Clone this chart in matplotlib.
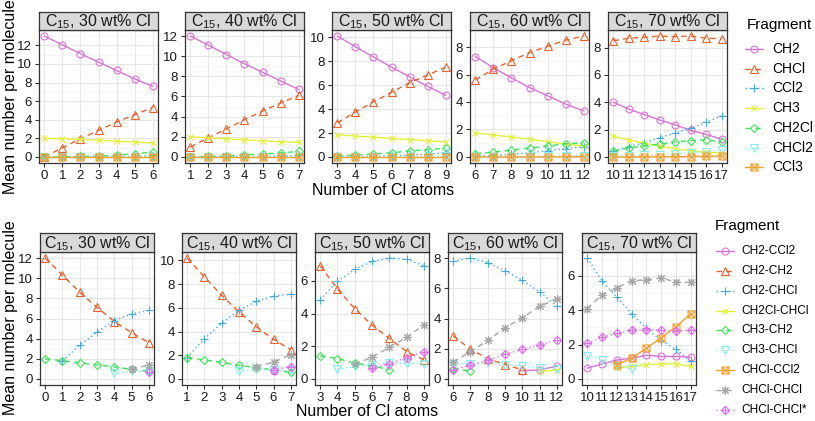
import numpy as np
import matplotlib.pyplot as plt
from matplotlib.path import Path
from matplotlib.lines import Line2D

plt.rcParams['font.family'] = ['Liberation Sans', 'DejaVu Sans']
plt.rcParams['mathtext.fontset'] = 'custom'
plt.rcParams['mathtext.rm'] = 'Liberation Sans'

# facet info
wt_labels = ['30', '40', '50', '60', '70']
x_start = [0, 1, 3, 6, 10]
x_count = [7, 7, 7, 7, 8]

# top row: single fragments (one sublist per facet)
CH2 = [[13.0, 12.05, 11.1, 10.2, 9.3, 8.4, 7.6],
       [12.0, 11.1, 10.15, 9.25, 8.4, 7.55, 6.7],
       [10.1, 9.2, 8.35, 7.5, 6.7, 5.9, 5.15],
       [7.3, 6.5, 5.75, 5.05, 4.45, 3.85, 3.35],
       [4.0, 3.5, 3.1, 2.7, 2.35, 1.95, 1.65, 1.3]]
CHCl = [[0.0, 1.0, 1.95, 2.85, 3.75, 4.55, 5.3],
        [1.0, 1.9, 2.8, 3.7, 4.55, 5.35, 6.1],
        [2.85, 3.75, 4.6, 5.4, 6.2, 6.85, 7.5],
        [5.6, 6.4, 7.0, 7.6, 8.05, 8.5, 8.8],
        [8.5, 8.7, 8.75, 8.85, 8.8, 8.85, 8.7, 8.65]]
CCl2 = [[0.0, 0.0, 0.01, 0.03, 0.05, 0.08, 0.12],
        [0.0, 0.01, 0.02, 0.04, 0.07, 0.1, 0.15],
        [0.02, 0.04, 0.07, 0.1, 0.15, 0.25, 0.35],
        [0.05, 0.1, 0.2, 0.3, 0.45, 0.6, 0.75],
        [0.45, 0.75, 1.05, 1.4, 1.75, 2.1, 2.55, 3.0]]
CH3 = [[2.0, 1.95, 1.9, 1.8, 1.7, 1.6, 1.5],
       [2.0, 1.9, 1.8, 1.7, 1.6, 1.5, 1.45],
       [1.85, 1.75, 1.65, 1.55, 1.45, 1.35, 1.25],
       [1.75, 1.6, 1.45, 1.3, 1.1, 0.95, 0.8],
       [1.5, 1.25, 1.0, 0.8, 0.6, 0.45, 0.35, 0.3]]
CH2Cl = [[0.0, 0.02, 0.05, 0.1, 0.2, 0.35, 0.5],
         [0.0, 0.05, 0.1, 0.2, 0.3, 0.4, 0.55],
         [0.1, 0.15, 0.25, 0.35, 0.5, 0.6, 0.75],
         [0.25, 0.35, 0.5, 0.65, 0.8, 0.95, 1.05],
         [0.45, 0.65, 0.8, 0.95, 1.1, 1.2, 1.25, 1.1]]
CHCl2 = [[0.0, 0.0, 0.0, 0.0, 0.0, 0.01, 0.02],
         [0.0, 0.0, 0.0, 0.0, 0.01, 0.01, 0.02],
         [0.0, 0.0, 0.01, 0.01, 0.02, 0.03, 0.05],
         [0.0, 0.01, 0.02, 0.03, 0.05, 0.07, 0.1],
         [0.05, 0.08, 0.12, 0.17, 0.22, 0.3, 0.38, 0.5]]
CCl3 = [[0.0, 0.0, 0.0, 0.0, 0.0, 0.0, 0.0],
        [0.0, 0.0, 0.0, 0.0, 0.0, 0.0, 0.0],
        [0.0, 0.0, 0.0, 0.0, 0.0, 0.0, 0.0],
        [0.0, 0.0, 0.0, 0.0, 0.0, 0.01, 0.02],
        [0.0, 0.0, 0.01, 0.01, 0.02, 0.03, 0.05, 0.07]]

# bottom row: pairs (None = not present)
CH2_CCl2 = [[None, None, None, None, None, None, None],
            [None, None, None, None, None, 0.7, None],
            [None, None, None, None, None, None, None],
            [None, None, None, None, 0.55, 0.6, 0.85],
            [0.63, 0.87, 1.1, 1.21, 1.38, 1.31, 1.31, 1.27]]
CH2_CH2 = [[12.0, 10.3, 8.6, 7.1, 5.7, 4.6, 3.6],
           [10.2, 8.6, 7.05, 5.65, 4.4, 3.35, 2.45],
           [6.93, 5.5, 4.3, 3.3, 2.48, 1.68, 1.17],
           [2.86, 1.96, 1.35, 0.95, 0.6, None, None],
           [None, None, None, None, None, None, None, None]]
CH2_CHCl = [[None, 1.8, 3.35, 4.65, 5.8, 6.45, 6.8],
            [1.8, 3.4, 4.7, 5.8, 6.55, 7.0, 7.15],
            [4.85, 5.98, 6.7, 7.2, 7.4, 7.33, 6.93],
            [7.8, 8.0, 7.7, 7.15, 6.55, 5.75, 4.85],
            [7.04, 5.7, 4.77, 3.8, 2.94, 2.23, 1.73, 1.02]]
CH2Cl_CHCl = [[None, None, None, None, None, None, None],
              [None, None, None, None, None, None, None],
              [None, None, None, None, None, None, None],
              [None, None, None, None, None, 0.5, 0.6],
              [None, None, 0.63, 0.73, 0.83, 0.87, 0.88, 0.73]]
CH3_CH2 = [[2.0, 1.8, 1.6, 1.4, 1.2, 0.95, 0.75],
           [1.8, 1.6, 1.4, 1.15, 0.95, 0.75, 0.55],
           [1.41, 1.25, 0.97, 0.8, 0.57, None, None],
           [0.68, 0.52, None, None, None, None, None],
           [None, None, None, None, None, None, None, None]]
CH3_CHCl = [[None, None, None, None, 0.55, 0.75, 0.75],
            [None, None, None, 0.65, 0.8, 0.75, 0.75],
            [None, 0.6, 0.77, 0.87, 0.97, 0.97, 0.93],
            [1.0, 1.0, 1.1, 0.95, 0.85, 0.75, 0.65],
            [1.35, 1.1, 0.77, 0.58, None, None, None, None]]
CHCl_CCl2 = [[None, None, None, None, None, None, None],
             [None, None, None, None, None, None, None],
             [None, None, None, None, None, None, None],
             [None, None, None, None, None, None, None],
             [None, None, 0.83, 1.21, 1.79, 2.4, 3.04, 3.81]]
CHCl_CHCl = [[None, None, None, None, None, 0.95, 1.4],
             [None, None, None, None, 1.05, 1.4, 2.05],
             [None, None, 0.9, 1.33, 1.94, 2.55, 3.3],
             [1.13, 1.8, 2.55, 3.38, 4.05, 4.8, 5.3],
             [4.1, 4.9, 5.3, 5.73, 5.77, 5.88, 5.63, 5.63]]
CHCl_CHCl_star = [[None, None, None, None, None, None, 0.7],
                  [None, None, None, None, None, 0.75, 1.05],
                  [None, None, None, 0.67, 0.93, 1.31, 1.68],
                  [0.6, 0.9, 1.24, 1.62, 1.96, 2.25, 2.59],
                  [2.08, 2.42, 2.65, 2.85, 2.85, 2.85, 2.79, 2.85]]

top_names = ['CH2', 'CHCl', 'CCl2', 'CH3', 'CH2Cl', 'CHCl2', 'CCl3']
top_series = [CH2, CHCl, CCl2, CH3, CH2Cl, CHCl2, CCl3]
bot_names = ['CH2-CCl2', 'CH2-CH2', 'CH2-CHCl', 'CH2Cl-CHCl', 'CH3-CH2',
             'CH3-CHCl', 'CHCl-CCl2', 'CHCl-CHCl', 'CHCl-CHCl*']
bot_series = [CH2_CCl2, CH2_CH2, CH2_CHCl, CH2Cl_CHCl, CH3_CH2, CH3_CHCl,
              CHCl_CCl2, CHCl_CHCl, CHCl_CHCl_star]

# markers like ggplot shapes 1..9
sq_cross = Path([(-1, -1), (1, -1), (1, 1), (-1, 1), (-1, -1), (-1, -1), (1, 1), (-1, 1), (1, -1)],
                [1, 2, 2, 2, 79, 1, 2, 1, 2])
dia_plus = Path([(0, -1), (1, 0), (0, 1), (-1, 0), (0, -1), (0, -1), (0, 1), (-1, 0), (1, 0)],
                [1, 2, 2, 2, 79, 1, 2, 1, 2])
markers = ['o', '^', '+', 'x', 'D', 'v', sq_cross, (8, 2, 0), dia_plus]
msizes = [5, 5.5, 6, 5, 4.2, 5.5, 5, 6, 6]
styles = ['-', (0, (4, 3)), (0, (1, 2))]

top_colors = ['#D874D8', '#E8622E', '#48A8E2', '#E4EE3C', '#40E25E', '#80EEEE', '#F2A030']
bot_colors = ['#D874D8', '#E8622E', '#48A8E2', '#E4EE3C', '#40E25E', '#80EEEE', '#F2A030',
              '#A6A6A6', '#E070F0']

W, H = 815, 421
fig = plt.figure(figsize=(W / 100, H / 100), dpi=100)


def px_axes(left, top, width, height):
    return fig.add_axes([left / W, 1 - (top + height) / H, width / W, height / H])


def draw_row(lefts, width, top, height, strip_h, series, colors):
    for p in range(5):
        ax = px_axes(lefts[p], top, width, height)
        xs = np.arange(x_start[p], x_start[p] + x_count[p])
        hi = 0
        for k, s in enumerate(series):
            ys = np.array(s[p], dtype=float)
            if np.all(np.isnan(ys)):
                continue
            hi = max(hi, np.nanmax(ys))
            ax.plot(xs, ys, color=colors[k], ls=styles[k % 3], lw=1.0,
                    marker=markers[k], ms=msizes[k], mfc='none', mew=0.8, zorder=3 + k * 0.01)
        pad = 0.05 * hi
        ax.set_ylim(-pad, hi + pad)
        ax.set_xlim(xs[0] - 0.05 * (xs[-1] - xs[0]), xs[-1] + 0.05 * (xs[-1] - xs[0]))
        ax.set_xticks(xs)
        ax.set_yticks(np.arange(0, hi + 0.01, 2))
        ax.set_yticks(np.arange(1, hi + pad, 2), minor=True)
        ax.grid(True, which='major', color='#E6E6E6', lw=0.8)
        ax.grid(True, which='minor', axis='y', color='#F2F2F2', lw=0.5)
        ax.set_axisbelow(True)
        ax.tick_params(which='major', length=3, width=0.8, color='#333333',
                       labelsize=9.5, labelcolor='#1A1A1A', pad=2)
        ax.tick_params(which='minor', length=0)
        for sp in ax.spines.values():
            sp.set_color('#333333')
            sp.set_linewidth(0.9)
        # strip
        st = px_axes(lefts[p], top - strip_h, width, strip_h)
        st.set_facecolor('#D9D9D9')
        st.set_xticks([])
        st.set_yticks([])
        for sp in st.spines.values():
            sp.set_color('#333333')
            sp.set_linewidth(0.9)
        st.text(0.5, 0.45, r'C$_{15}$, ' + wt_labels[p] + ' wt% Cl', ha='center', va='center',
                fontsize=11.5, color='#1A1A1A', transform=st.transAxes)


def draw_legend(names, colors, x_line, x_title, y_title, y_first, dy, size, gap):
    fig.text(x_title / W, 1 - y_title / H, 'Fragment', ha='left', va='center', fontsize=11)
    for k, n in enumerate(names):
        y = 1 - (y_first + k * dy) / H
        fig.add_artist(Line2D([x_line / W, (x_line + 18) / W], [y, y], color=colors[k],
                              ls=styles[k % 3], lw=1.0, transform=fig.transFigure))
        fig.add_artist(Line2D([(x_line + 9) / W], [y], color=colors[k], ls='none',
                              marker=markers[k], ms=msizes[k], mfc='none', mew=0.8,
                              transform=fig.transFigure))
        fig.text((x_line + gap) / W, y, n, ha='left', va='center', fontsize=size)


draw_row([39, 185, 332, 470, 608], 119, 30, 133, 18, top_series, top_colors)
draw_row([40, 182, 315, 448, 582], 114, 252, 133, 19, bot_series, bot_colors)

fig.text(11 / W, 1 - 97 / H, 'Mean number per molecule', rotation=90, ha='center', va='center', fontsize=11.5)
fig.text(11 / W, 1 - 318 / H, 'Mean number per molecule', rotation=90, ha='center', va='center', fontsize=11.5)
fig.text(383 / W, 1 - 191 / H, 'Number of Cl atoms', ha='center', va='center', fontsize=11.5)
fig.text(367 / W, 1 - 412 / H, 'Number of Cl atoms', ha='center', va='center', fontsize=11.5)

draw_legend(top_names, top_colors, 745, 747, 25, 49, 19.7, 10, 27)
draw_legend(bot_names, bot_colors, 716, 715, 226, 251, 19.85, 8.6, 25)

fig.savefig('out.png', dpi=100)
